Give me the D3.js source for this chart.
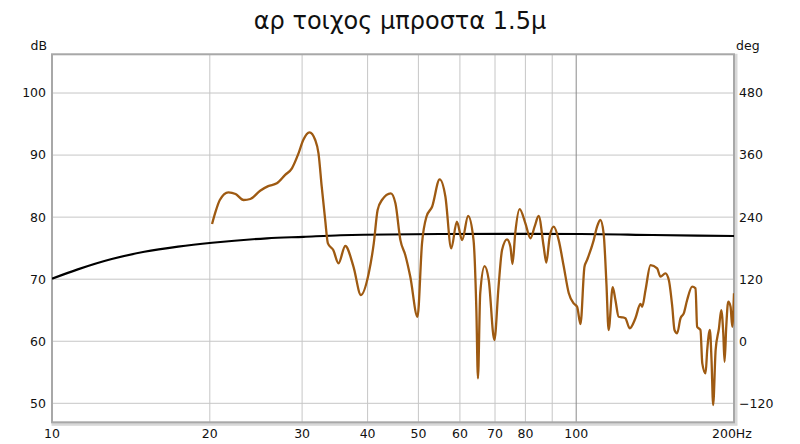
<!DOCTYPE html>
<html>
<head>
<meta charset="utf-8">
<script src="https://cdn.jsdelivr.net/npm/d3@7"></script>
<style>
  html, body { margin: 0; padding: 0; background: #fff; }
  svg { display: block; }
</style>
</head>
<body>
<svg id="chart" width="800" height="444"></svg>
<script>
// ---- data ----
const title = "αρ τοιχος μπροστα 1.5μ";
const xGridFreqs = [20, 30, 40, 50, 60, 70, 80, 90, 100];
const xTickLabels = [10, 20, 30, 40, 50, 60, 70, 80, 100, 200];
const dbTicks = [50, 60, 70, 80, 90, 100];
const degTicks = [-120, 0, 120, 240, 360, 480];

const magFreq = [20.2, 20.5, 20.9, 21.7, 22.4, 23.2, 23.9, 24.95, 25.85, 26.85, 27.85, 28.69, 29.53, 30.15, 30.99,
  31.78, 32.24, 32.7, 33.2, 33.6, 34.4, 35.2, 36.26, 37.6, 38.85, 40.2, 41.1, 41.8, 42.6, 44.3,
  45.2, 46.2, 47.2, 48.25, 49.8, 50.8, 51.8, 53.1, 54.9, 56.3, 57.76, 59.2, 60.6, 62.2, 63.7,
  64.5, 64.95, 65.6, 66.87, 68.1, 69.8, 71.1, 72.2, 73.8, 74.9, 75.6, 76.5, 78.0, 80.0, 81.8,
  83.3, 84.8, 86.7, 87.7, 89.0, 90.6, 92.6, 94.7, 96.8, 98.9, 100.4, 101.9, 103.7, 104.9, 108.0,
  109.6, 111.2, 112.8, 114.2, 115.3, 117.4, 118.8, 120.5, 122.3, 124.1, 126.5, 129.7, 132.6, 133.6, 135.6,
  138.6, 142.7, 144.8, 148.0, 150.2, 152.5, 154.0, 155.8, 158.1, 160.4, 162.8, 166.4, 168.9, 170.1, 172.6,
  174.0, 176.5, 177.8, 179.9, 181.2, 182.5, 184.5, 187.2, 189.1, 190.8, 191.9, 193.3, 195.0, 197.0, 198.5, 200];
const magDb = [78.9, 80.8, 82.76, 84.0, 83.73, 82.76, 82.92, 84.26, 85.0, 85.45, 86.8, 87.87, 90.28, 92.43, 93.67,
  92.43, 90.28, 84.9, 79.54, 75.78, 74.7, 72.56, 75.35, 72.0, 67.45, 70.95, 75.78, 81.15, 82.76, 83.84,
  82.23, 76.3, 73.9, 70.4, 63.95, 75.78, 80.07, 81.68, 86.1, 83.29, 74.97, 79.26, 76.3, 80.18, 76.3,
  65.0, 54.03, 67.73, 72.12, 69.87, 60.2, 68.8, 74.7, 76.43, 75.23, 72.45, 77.4, 81.3, 79.0, 76.59,
  78.46, 80.18, 75.23, 72.66, 76.85, 78.46, 76.3, 72.0, 67.73, 66.1, 65.56, 62.78, 72.0, 73.1, 76.3,
  78.46, 79.54, 77.4, 69.3, 61.81, 68.7, 66.65, 63.95, 63.86, 63.7, 62.08, 63.7, 66.0, 65.56, 68.26,
  72.28, 71.75, 70.4, 70.95, 69.87, 65.56, 61.81, 61.28, 63.7, 64.5, 66.65, 68.8, 68.53, 62.34, 61.81,
  56.44, 54.83, 58.59, 61.81, 56.98, 49.73, 58.59, 62.08, 65.03, 61.28, 56.7, 62.34, 66.37, 65.56, 62.34, 67.73];

const phaseFreq = [10, 11.2, 13, 15, 17.4, 20.2, 25.7, 30.2, 35.5, 55, 80, 102, 140, 200];
const phaseDeg = [121, 139, 159, 173, 183, 190.5, 199, 202, 205, 207.4, 207.6, 207.4, 205.5, 203.5];

// ---- layout ----
const svg = d3.select("#chart");
const L = 52, R = 734, T = 54.3, B = 422.3;
const x = d3.scaleLog().domain([10, 200]).range([L, R]);
const yDb = d3.scaleLinear().domain([46.94, 106.24]).range([B, T]);
const yDeg = d3.scaleLinear().domain([(46.94 - 60) * 12, (106.24 - 60) * 12]).range([B, T]);
const font = "'DejaVu Sans', Verdana, sans-serif";

// title
svg.append("text").attr("x", 400).attr("y", 29).attr("text-anchor", "middle")
  .attr("font-family", font).attr("font-size", 24).attr("fill", "#111").text(title);

// frame shadow
svg.append("rect").attr("x", L + 1).attr("y", T + 1).attr("width", R - L + 1).attr("height", B - T + 1)
  .attr("fill", "none").attr("stroke", "#d8d8d8").attr("stroke-width", 3);
// plot background
svg.append("rect").attr("x", L).attr("y", T).attr("width", R - L).attr("height", B - T).attr("fill", "#fff");

// grid
const g = svg.append("g");
g.selectAll("line.hg").data(dbTicks).join("line")
  .attr("x1", L).attr("x2", R).attr("y1", d => yDb(d)).attr("y2", d => yDb(d))
  .attr("stroke", "#c6c6c6").attr("stroke-width", 1);
g.selectAll("line.vg").data(xGridFreqs).join("line")
  .attr("x1", d => x(d)).attr("x2", d => x(d)).attr("y1", T).attr("y2", B)
  .attr("stroke", d => d === 100 ? "#8a8a8a" : "#c6c6c6").attr("stroke-width", 1);

// frame
svg.append("rect").attr("x", L).attr("y", T).attr("width", R - L).attr("height", B - T)
  .attr("fill", "none").attr("stroke", "#a8a8a8").attr("stroke-width", 2);

// clip
svg.append("clipPath").attr("id", "clip").append("rect")
  .attr("x", L).attr("y", T).attr("width", R - L).attr("height", B - T);

// phase line
const phaseData = phaseFreq.map((f, i) => [f, phaseDeg[i]]);
svg.append("path").attr("clip-path", "url(#clip)")
  .attr("d", d3.line().x(d => x(d[0])).y(d => yDeg(d[1])).curve(d3.curveMonotoneX)(phaseData))
  .attr("fill", "none").attr("stroke", "#000").attr("stroke-width", 2.2);

// magnitude line
const magData = magFreq.map((f, i) => [f, magDb[i]]);
svg.append("path").attr("clip-path", "url(#clip)")
  .attr("d", d3.line().x(d => x(d[0])).y(d => yDb(d[1])).curve(d3.curveMonotoneX)(magData))
  .attr("fill", "none").attr("stroke", "#9e5a12").attr("stroke-width", 2.3)
  .attr("stroke-linejoin", "round");

// axes labels
const lab = svg.append("g").attr("font-family", font).attr("font-size", 12.5).attr("fill", "#111");
lab.selectAll("text.yl").data(dbTicks).join("text")
  .attr("x", 46).attr("y", d => yDb(d)).attr("dy", "0.35em").attr("text-anchor", "end").text(d => d);
lab.selectAll("text.yr").data(degTicks).join("text")
  .attr("x", 739).attr("y", d => yDeg(d)).attr("dy", "0.35em").attr("text-anchor", "start")
  .text(d => d < 0 ? "\u2212" + Math.abs(d) : d);
lab.selectAll("text.xl").data(xTickLabels).join("text")
  .attr("x", d => x(d)).attr("y", 438).attr("text-anchor", d => d === 200 ? "start" : "middle")
  .attr("dx", d => d === 200 ? -22 : 0)
  .text(d => d === 200 ? "200Hz" : d);
lab.append("text").attr("x", 47).attr("y", 46).attr("dy", "0.35em").attr("text-anchor", "end").text("dB");
lab.append("text").attr("x", 736).attr("y", 46).attr("dy", "0.35em").attr("text-anchor", "start").text("deg");
</script>
</body>
</html>
